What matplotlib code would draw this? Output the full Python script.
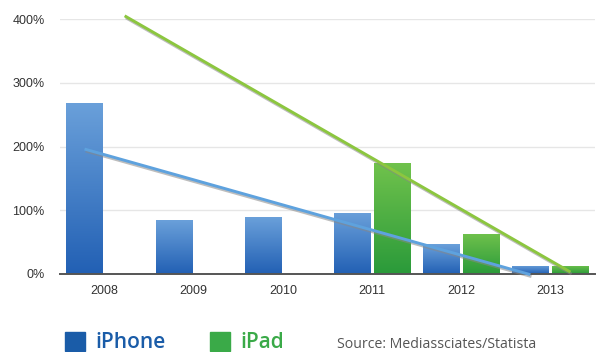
import numpy as np
import matplotlib
matplotlib.use("Agg")
import matplotlib.pyplot as plt
import matplotlib.patheffects as pe
from matplotlib.colors import LinearSegmentedColormap
from matplotlib.patches import Rectangle

years = ["2008", "2009", "2010", "2011", "2012", "2013"]
iphone = [268, 84, 89, 96, 46.5, 13]
ipad = [0, 0, 0, 174, 63, 13]
iphone_trend = [196, -1]   # start (2008) and end (2013) of trend line
ipad_trend = [405, 3]
yticks = [0, 100, 200, 300, 400]
ytick_labels = ["0%", "100%", "200%", "300%", "400%"]

W, H = 596, 352
fig = plt.figure(figsize=(W / 100, H / 100), dpi=100)
ax = fig.add_axes([60 / W, 78 / H, 535 / W, 255 / H])

x = np.arange(len(years))
bw = 0.405
off = 0.225

blue_cmap = LinearSegmentedColormap.from_list("b", ["#2260b4", "#6aa0da"])
green_cmap = LinearSegmentedColormap.from_list("g", ["#2a9a3a", "#70c24c"])
grad = np.linspace(0, 1, 256).reshape(-1, 1)

def grad_bars(xs, vals, cmap):
    bars = ax.bar(xs, vals, width=bw, color="none", edgecolor="none", zorder=2)
    for b in bars:
        h = b.get_height()
        if h <= 0:
            continue
        x0 = b.get_x()
        im = ax.imshow(grad, cmap=cmap, origin="lower", aspect="auto",
                       extent=[x0, x0 + b.get_width(), 0, h], zorder=2)
        im.set_clip_path(b)

grad_bars(x - off, iphone, blue_cmap)
grad_bars(x + off, ipad, green_cmap)

shadow = [pe.SimpleLineShadow(offset=(0.8, -1.4), shadow_color="#888888", alpha=0.55), pe.Normal()]
ax.plot([x[0] - off, x[-1] - off], iphone_trend, color="#5ea2de", lw=2.1,
        solid_capstyle="butt", zorder=4, path_effects=shadow, clip_on=False)
ax.plot([x[0] + off, x[-1] + off], ipad_trend, color="#8cc63f", lw=2.1,
        solid_capstyle="butt", zorder=4, path_effects=shadow, clip_on=False)

ax.set_xlim(-0.5, 5.5)
ax.set_ylim(0, 400)
ax.set_yticks(yticks)
ax.set_yticklabels(ytick_labels)
ax.set_xticks(x)
ax.set_xticklabels(years)
ax.tick_params(axis="both", length=0, labelsize=9, labelcolor="#333333")
ax.tick_params(axis="y", pad=11)
ax.tick_params(axis="x", pad=8)
for lab in ax.get_xticklabels() + ax.get_yticklabels():
    lab.set_fontfamily("Liberation Sans")
ax.grid(axis="y", color="#e6e6e6", lw=1)
ax.set_axisbelow(True)
for s in ["top", "right", "left"]:
    ax.spines[s].set_visible(False)
ax.spines["bottom"].set_color("#555555")
ax.spines["bottom"].set_linewidth(1.4)
ax.spines["bottom"].set_zorder(3)

# legend
fig.patches.append(Rectangle((65 / W, (H - 351) / H), 20 / W, 19 / H,
                             transform=fig.transFigure, color="#1a5ca8"))
fig.text(95 / W, (H - 342) / H, "iPhone", fontsize=15, color="#1a5ca8",
         family="Open Sans", fontweight="semibold", va="center", ha="left")
fig.patches.append(Rectangle((210 / W, (H - 351) / H), 20 / W, 19 / H,
                             transform=fig.transFigure, color="#3aaa48"))
fig.text(240 / W, (H - 342) / H, "iPad", fontsize=15, color="#3aaa48",
         family="Open Sans", fontweight="semibold", va="center", ha="left")
fig.text(337 / W, (H - 345) / H, "Source: Mediassciates/Statista", fontsize=10.2,
         color="#555555", family="Open Sans", va="center", ha="left")

fig.savefig("out.png", dpi=100)
